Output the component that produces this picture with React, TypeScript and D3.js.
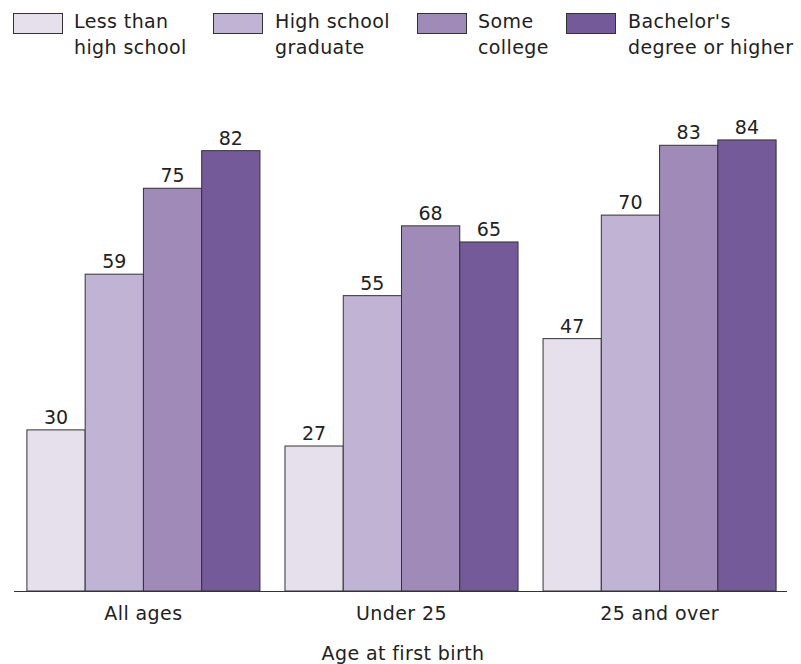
import React from "react";
import * as d3 from "d3";

const categories = ["All ages", "Under 25", "25 and over"];
const seriesNames = [
  ["Less than", "high school"],
  ["High school", "graduate"],
  ["Some", "college"],
  ["Bachelor's", "degree or higher"],
];
const lessThanHS = [30, 27, 47];
const hsGraduate = [59, 55, 70];
const someCollege = [75, 68, 83];
const bachelors = [82, 65, 84];
const colors = ["#e6e0ed", "#c0b3d4", "#a08ab8", "#755a99"];
const xAxisTitle = "Age at first birth";

const W = 801;
const H = 664;
const FONT = "'DejaVu Sans', sans-serif";
const FS = 19;
const LS = 0.4;

export default function App() {
  const series = [lessThanHS, hsGraduate, someCollege, bachelors];
  const x0 = d3
    .scaleBand<string>()
    .domain(categories)
    .range([14, 789])
    .paddingInner(0.097)
    .paddingOuter(0.05);
  const x1 = d3
    .scaleBand<number>()
    .domain(d3.range(series.length))
    .range([0, x0.bandwidth()])
    .padding(0);
  const y = d3.scaleLinear().domain([0, 100]).range([591, 54]);
  const legendBoxX = [13, 213, 417, 566];
  const legendTextX = [74, 275, 478, 628];

  return (
    <svg width={W} height={H} style={{ position: "absolute", left: 0, top: 0 }}>
      <rect width={W} height={H} fill="#ffffff" />
      {seriesNames.map((lines, i) => (
        <g key={i}>
          <rect
            x={legendBoxX[i] + 0.5}
            y={13.5}
            width={49}
            height={20}
            fill={colors[i]}
            stroke="#333"
            strokeWidth={1}
          />
          <text x={legendTextX[i]} y={28} fontFamily={FONT} fontSize={FS} letterSpacing={LS} fill="#222">
            {lines[0]}
          </text>
          <text x={legendTextX[i]} y={54} fontFamily={FONT} fontSize={FS} letterSpacing={LS} fill="#222">
            {lines[1]}
          </text>
        </g>
      ))}
      {categories.map((c, ci) => (
        <g key={c} transform={`translate(${x0(c)},0)`}>
          {series.map((s, si) => (
            <g key={si}>
              <rect
                x={(x1(si) as number)}
                y={y(s[ci])}
                width={x1.bandwidth()}
                height={y(0) - y(s[ci])}
                fill={colors[si]}
                stroke="#333"
                strokeWidth={1}
              />
              <text
                x={(x1(si) as number) + x1.bandwidth() / 2}
                y={y(s[ci]) - 6}
                textAnchor="middle"
                fontFamily={FONT}
                fontSize={FS}
                fill="#222"
              >
                {s[ci]}
              </text>
            </g>
          ))}
          <text
            x={x0.bandwidth() / 2}
            y={620}
            textAnchor="middle"
            fontFamily={FONT}
            fontSize={FS}
            letterSpacing={LS}
            fill="#222"
          >
            {c}
          </text>
        </g>
      ))}
      <line x1={14} x2={787} y1={591.5} y2={591.5} stroke="#333" strokeWidth={1.2} />
      <text x={403} y={660} textAnchor="middle" fontFamily={FONT} fontSize={FS} letterSpacing={LS} fill="#222">
        {xAxisTitle}
      </text>
    </svg>
  );
}
